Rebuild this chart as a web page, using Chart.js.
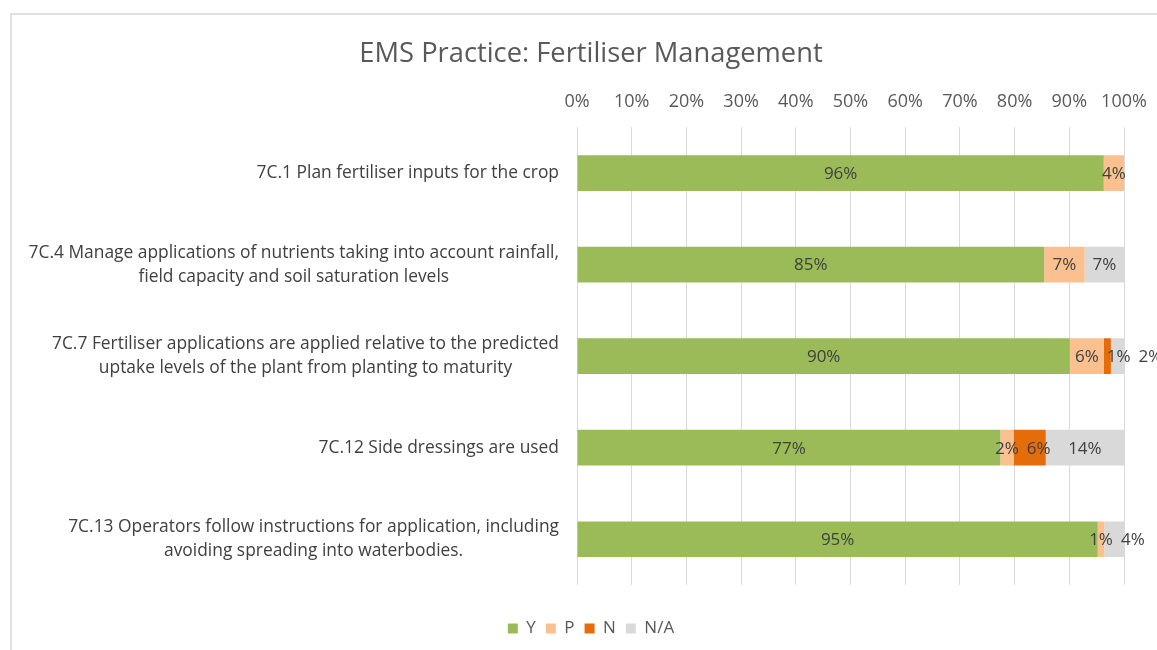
<!DOCTYPE html>
<html>
<head>
<meta charset="utf-8">
<script src="https://cdn.jsdelivr.net/npm/chart.js@4"></script>
<style>
  body { margin: 0; background: #fff; }
  #wrap { position: relative; width: 1157px; height: 650px; overflow: hidden; }
  #frame { position: absolute; left: 10px; top: 13px; width: 1200px; height: 700px; border: 2px solid #e0e0e0; box-sizing: border-box; }
  canvas { position: absolute; left: 0; top: 0; }
</style>
</head>
<body>
<div id="wrap">
  <div id="frame"></div>
  <canvas id="chart" width="1157" height="650"></canvas>
</div>
<script>
// Survey responses (share of growers, %)
const categories = [
    ['7C.1 Plan fertiliser inputs for the crop'],
    ['7C.4 Manage applications of nutrients taking into account rainfall,', 'field capacity and soil saturation levels'],
    ['7C.7 Fertiliser applications are applied relative to the predicted', 'uptake levels of the plant from planting to maturity'],
    ['7C.12 Side dressings are used'],
    ['7C.13 Operators follow instructions for application, including', 'avoiding spreading into waterbodies.']
];
const yesValues = [96.3, 85.4, 90.1, 77.4, 95.2];
const partValues = [3.7, 7.4, 6.2, 2.4, 1.2];
const noValues = [0, 0, 1.3, 5.9, 0];
const naValues = [0, 7.2, 2.4, 14.3, 3.6];
const seriesNames = ['Y', 'P', 'N', 'N/A'];
const seriesColors = ['#9bbb59', '#fac090', '#e46c0a', '#d9d9d9'];

const FONT = "'Open Sans', sans-serif";
const LEFT_PAD = 58;

// Category labels: block right aligned to the axis, lines centred in the block
const categoryLabels = {
    id: 'categoryLabels',
    afterDraw(chart) {
        const ctx = chart.ctx;
        const y = chart.scales.y;
        const right = chart.scales.x.left - 18;
        const lineH = 24;
        ctx.save();
        ctx.font = '17.4px ' + FONT;
        ctx.fillStyle = '#404040';
        ctx.textAlign = 'center';
        ctx.textBaseline = 'middle';
        categories.forEach((lines, i) => {
            const w = Math.max(...lines.map(l => ctx.measureText(l).width));
            const cx = right - w / 2;
            const cy = y.getPixelForTick(i);
            lines.forEach((l, j) => {
                ctx.fillText(l, cx, cy + (j - (lines.length - 1) / 2) * lineH);
            });
        });
        ctx.restore();
    }
};

// Value labels centred in the segments, pushed right when they crowd
const valueLabels = {
    id: 'valueLabels',
    afterDatasetsDraw(chart) {
        const ctx = chart.ctx;
        const gap = 8;
        ctx.save();
        ctx.font = '17px ' + FONT;
        ctx.fillStyle = '#404040';
        ctx.textAlign = 'left';
        ctx.textBaseline = 'middle';
        categories.forEach((c, i) => {
            let prevRight = -1000;
            chart.data.datasets.forEach((ds, d) => {
                const v = ds.data[i];
                if (!v) return;
                const bar = chart.getDatasetMeta(d).data[i];
                const txt = Math.round(v) + '%';
                const w = ctx.measureText(txt).width;
                let left = (bar.x + bar.base) / 2 - w / 2;
                if (left < prevRight + gap) left = prevRight + gap;
                ctx.fillText(txt, left, bar.y + 1);
                prevRight = left + w;
            });
        });
        ctx.restore();
    }
};

const seriesValues = [yesValues, partValues, noValues, naValues];

new Chart(document.getElementById('chart'), {
    type: 'bar',
    data: {
        labels: categories.map(c => c.join(' ')),
        datasets: seriesNames.map((name, k) => ({
            label: name,
            data: seriesValues[k],
            backgroundColor: seriesColors[k],
            barPercentage: 0.39,
            categoryPercentage: 1
        }))
    },
    options: {
        indexAxis: 'y',
        responsive: false,
        animation: false,
        layout: { padding: { left: LEFT_PAD, right: 33, top: 14, bottom: 3 } },
        scales: {
            x: {
                position: 'top',
                stacked: true,
                min: 0,
                max: 100,
                border: { display: false },
                grid: { color: '#d9d9d9', drawTicks: false },
                ticks: {
                    stepSize: 10,
                    padding: 15,
                    color: '#595959',
                    font: { family: FONT, size: 18 },
                    callback: v => v + '%'
                },
                afterFit: s => { s.paddingRight = 0; s.paddingLeft = 0; }
            },
            y: {
                stacked: true,
                grid: { display: false },
                border: { display: false },
                ticks: { display: false },
                afterFit: s => { s.width = 577 - LEFT_PAD; }
            }
        },
        plugins: {
            title: {
                display: true,
                text: 'EMS Practice: Fertiliser Management',
                color: '#595959',
                font: { family: FONT, size: 27.3, weight: 'normal' },
                padding: { top: 24, bottom: 5 }
            },
            legend: {
                position: 'bottom',
                title: { display: true, text: ' ', font: { size: 10 }, padding: { top: 13, bottom: 0 } },
                labels: {
                    boxWidth: 10,
                    boxHeight: 10,
                    padding: 10,
                    color: '#595959',
                    font: { family: FONT, size: 17 }
                }
            },
            tooltip: { enabled: false }
        }
    },
    plugins: [categoryLabels, valueLabels]
});
</script>
</body>
</html>
